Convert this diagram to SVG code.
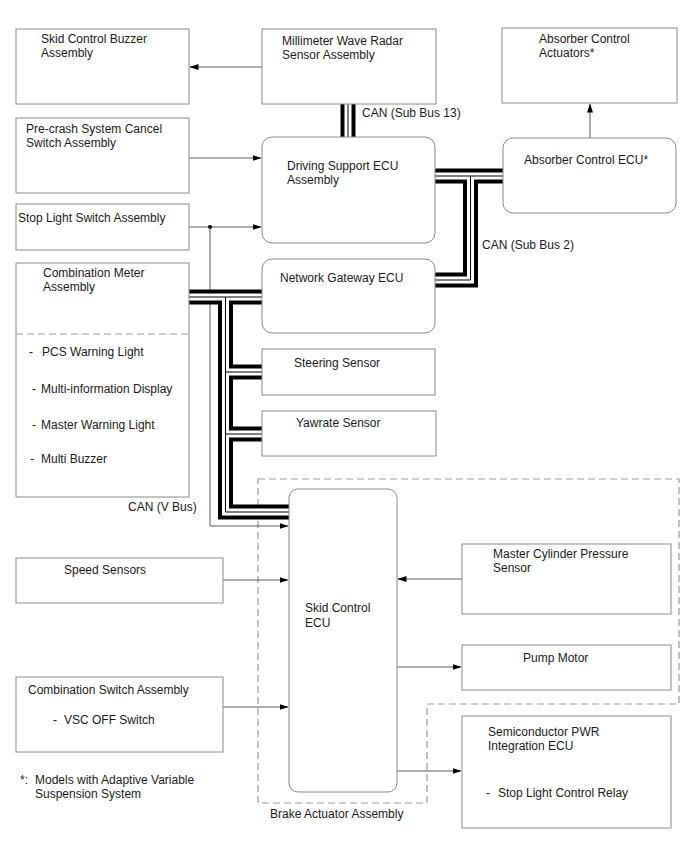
<svg xmlns="http://www.w3.org/2000/svg" width="688" height="852" viewBox="0 0 688 852">
<style>
.box{fill:#fff;stroke:#8a8a8a;stroke-width:1}
.t{font-family:"Liberation Sans",Arial,sans-serif;font-size:12px;fill:#1a1a1a}
.ln{stroke:#5a5a5a;stroke-width:1;fill:none}
.dash{stroke:#9a9a9a;stroke-width:1.2;stroke-dasharray:7 4;fill:none}
.bk{stroke:#000;stroke-width:15;fill:none;stroke-linejoin:miter}
.wh{stroke:#fff;stroke-width:7;fill:none;stroke-linejoin:miter}
.th{stroke:#000;stroke-width:1;fill:none;stroke-linejoin:miter}
</style>
<defs>
<marker id="ah" markerUnits="userSpaceOnUse" markerWidth="9" markerHeight="6" refX="8.5" refY="3" orient="auto">
<path d="M0,0 L9,3 L0,6 z" fill="#000"/>
</marker>
<path id="b1" d="M348,104 V137"/>
<path id="b2" d="M435,280 H470.5 V176"/>
<path id="b3" d="M435,176 H503"/>
<path id="b4" d="M189,297 H262"/>
<path id="b5" d="M225.5,297 V512 H289"/>
<path id="b6" d="M225.5,372 H262"/>
<path id="b7" d="M225.5,434 H262"/>
</defs>
<rect width="688" height="852" fill="#fff"/>

<g id="brake-actuator-assembly">
<path class="dash" d="M258,479 H679 V704 H427 V803 H258 Z"/>
<text class="t" x="270" y="818">Brake Actuator Assembly</text>
</g>

<g id="connectors">
<path class="ln" d="M262,67 H190" marker-end="url(#ah)"/>
<path class="ln" d="M189,158 H261" marker-end="url(#ah)"/>
<path class="ln" d="M189,227 H261" marker-end="url(#ah)"/>
<circle cx="210" cy="227" r="2" fill="#000"/>
<path class="ln" d="M210,227 V526 H288" marker-end="url(#ah)"/>
<path class="ln" d="M590,138 V104" marker-end="url(#ah)"/>
<path class="ln" d="M223,580 H288" marker-end="url(#ah)"/>
<path class="ln" d="M462,579 H398" marker-end="url(#ah)"/>
<path class="ln" d="M397,667 H461" marker-end="url(#ah)"/>
<path class="ln" d="M223,707 H288" marker-end="url(#ah)"/>
<path class="ln" d="M397,771 H461" marker-end="url(#ah)"/>
<g id="can-buses">
<use href="#b1" class="bk"/><use href="#b2" class="bk"/><use href="#b3" class="bk"/><use href="#b4" class="bk"/><use href="#b5" class="bk"/><use href="#b6" class="bk"/><use href="#b7" class="bk"/>
<use href="#b1" class="wh"/><use href="#b2" class="wh"/><use href="#b3" class="wh"/><use href="#b4" class="wh"/><use href="#b5" class="wh"/><use href="#b6" class="wh"/><use href="#b7" class="wh"/>
<use href="#b1" class="th"/><use href="#b2" class="th"/><use href="#b3" class="th"/><use href="#b4" class="th"/><use href="#b5" class="th"/><use href="#b6" class="th"/><use href="#b7" class="th"/>
</g>
<text class="t" x="362" y="117">CAN (Sub Bus 13)</text>
<text class="t" x="482" y="249">CAN (Sub Bus 2)</text>
<text class="t" x="128" y="511">CAN (V Bus)</text>
</g>

<g id="skid-control-buzzer">
<rect class="box" x="16" y="29" width="173" height="75"/>
<text class="t" x="41" y="43">Skid Control Buzzer</text>
<text class="t" x="41" y="57">Assembly</text>
</g>
<g id="millimeter-wave-radar">
<rect class="box" x="262" y="29" width="174" height="75"/>
<text class="t" x="282" y="45">Millimeter Wave Radar</text>
<text class="t" x="282" y="59">Sensor Assembly</text>
</g>
<g id="absorber-control-actuators">
<rect class="box" x="502" y="28" width="175" height="75"/>
<text class="t" x="539" y="43">Absorber Control</text>
<text class="t" x="539" y="57">Actuators*</text>
</g>
<g id="pre-crash-cancel-switch">
<rect class="box" x="16" y="118" width="173" height="75"/>
<text class="t" x="26" y="133">Pre-crash System Cancel</text>
<text class="t" x="26" y="147">Switch Assembly</text>
</g>
<g id="driving-support-ecu">
<rect class="box" x="262" y="137" width="173" height="106" rx="10"/>
<text class="t" x="287" y="170">Driving Support ECU</text>
<text class="t" x="287" y="184">Assembly</text>
</g>
<g id="absorber-control-ecu">
<rect class="box" x="503" y="138" width="173" height="75" rx="10"/>
<text class="t" x="524" y="164">Absorber Control ECU*</text>
</g>
<g id="stop-light-switch">
<rect class="box" x="16" y="204" width="173" height="46"/>
<text class="t" x="18" y="222">Stop Light Switch Assembly</text>
</g>
<g id="network-gateway-ecu">
<rect class="box" x="262" y="259" width="173" height="74" rx="10"/>
<text class="t" x="280" y="282">Network Gateway ECU</text>
</g>
<g id="combination-meter">
<rect class="box" x="16" y="263" width="173" height="234"/>
<text class="t" x="43" y="277">Combination Meter</text>
<text class="t" x="43" y="291">Assembly</text>
<line class="dash" x1="16" y1="334" x2="189" y2="334"/>
<text class="t" y="356"><tspan x="29">-</tspan><tspan x="42">PCS Warning Light</tspan></text>
<text class="t" y="393"><tspan x="32">-</tspan><tspan x="41">Multi-information Display</tspan></text>
<text class="t" y="429"><tspan x="32">-</tspan><tspan x="41">Master Warning Light</tspan></text>
<text class="t" y="463"><tspan x="30">-</tspan><tspan x="41">Multi Buzzer</tspan></text>
</g>
<g id="steering-sensor">
<rect class="box" x="262" y="349" width="173" height="46"/>
<text class="t" x="294" y="367">Steering Sensor</text>
</g>
<g id="yawrate-sensor">
<rect class="box" x="262" y="411" width="174" height="45"/>
<text class="t" x="296" y="427">Yawrate Sensor</text>
</g>
<g id="skid-control-ecu">
<rect class="box" x="289" y="489" width="108" height="303" rx="9"/>
<text class="t" x="305" y="612">Skid Control</text>
<text class="t" x="305" y="627">ECU</text>
</g>
<g id="speed-sensors">
<rect class="box" x="16" y="558" width="207" height="45"/>
<text class="t" x="64" y="574">Speed Sensors</text>
</g>
<g id="master-cylinder-pressure-sensor">
<rect class="box" x="462" y="544" width="209" height="70"/>
<text class="t" x="493" y="558">Master Cylinder Pressure</text>
<text class="t" x="493" y="572">Sensor</text>
</g>
<g id="pump-motor">
<rect class="box" x="462" y="645" width="209" height="45"/>
<text class="t" x="523" y="662">Pump Motor</text>
</g>
<g id="combination-switch">
<rect class="box" x="16" y="677" width="207" height="75"/>
<text class="t" x="28" y="694">Combination Switch Assembly</text>
<text class="t" y="724"><tspan x="53">-</tspan><tspan x="64">VSC OFF Switch</tspan></text>
</g>
<g id="semiconductor-pwr-integration-ecu">
<rect class="box" x="462" y="716" width="209" height="112"/>
<text class="t" x="488" y="736">Semiconductor PWR</text>
<text class="t" x="488" y="750">Integration ECU</text>
<text class="t" y="797"><tspan x="486">-</tspan><tspan x="498">Stop Light Control Relay</tspan></text>
</g>
<g id="footnote">
<text class="t" y="784"><tspan x="20">*:</tspan><tspan x="35">Models with Adaptive Variable</tspan></text>
<text class="t" x="35" y="798">Suspension System</text>
</g>
</svg>
